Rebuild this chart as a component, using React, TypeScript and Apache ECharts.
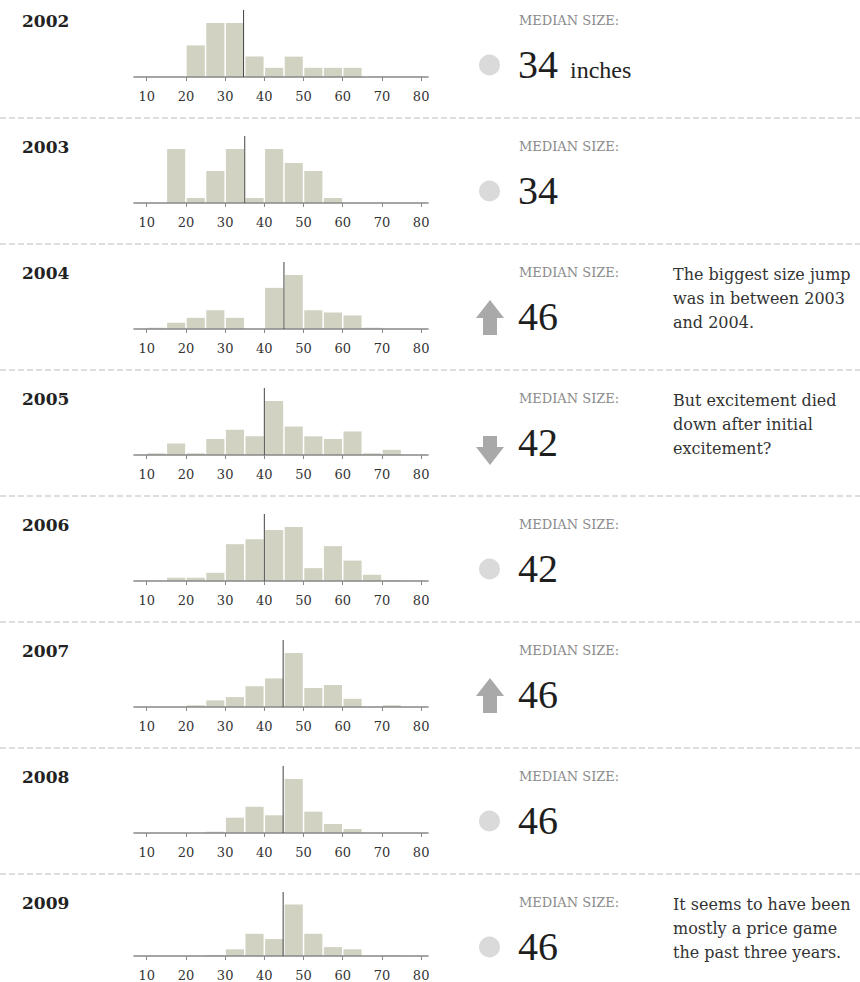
import React, { useEffect, useRef } from "react";
import * as echarts from "echarts";

// ---- data ----
const years = ["2002", "2003", "2004", "2005", "2006", "2007", "2008", "2009"];
const binStarts = [10, 15, 20, 25, 30, 35, 40, 45, 50, 55, 60, 65, 70, 75];
const binWidth = 5;
const tickValues = [10, 20, 30, 40, 50, 60, 70, 80];
const counts2002 = [0, 0, 31, 53, 53, 20, 9, 20, 9, 9, 9, 0, 0, 0];
const counts2003 = [0, 54, 5, 32, 54, 5, 54, 40, 32, 5, 0, 0, 0, 0];
const counts2004 = [1.3, 6.3, 11.3, 19, 11.3, 0, 41.7, 54.7, 19, 16.7, 13.7, 1.3, 0, 0];
const counts2005 = [1.7, 11.7, 1.7, 16.3, 25.7, 19, 55, 29, 19, 16.3, 24, 1.7, 5.3, 0];
const counts2006 = [0, 3.3, 3.3, 8.3, 37.3, 42.3, 51.7, 54.7, 13, 35.3, 20.7, 6.3, 1, 0];
const counts2007 = [0, 0, 1.7, 6.7, 10, 21, 29, 54.7, 19.3, 22.3, 8.3, 0, 1.7, 0];
const counts2008 = [0, 0, 0, 1.3, 15.3, 26.3, 17.7, 54, 21.3, 9, 4, 0, 0, 0];
const counts2009 = [0, 0, 0, 1, 7, 23.3, 17.7, 54, 23.3, 9.3, 7, 0, 0.7, 0];
const histograms = [counts2002, counts2003, counts2004, counts2005, counts2006, counts2007, counts2008, counts2009];
const medianLines = [34.7, 35, 45, 40, 40, 44.8, 44.8, 44.8];
const medianSizes = ["34", "34", "46", "42", "42", "46", "46", "46"];
const trends = ["same", "same", "up", "down", "same", "up", "same", "same"];
const notes = [
  "",
  "",
  "The biggest size jump\nwas in between 2003\nand 2004.",
  "But excitement died\ndown after initial\nexcitement?",
  "",
  "",
  "",
  "It seems to have been\nmostly a price game\nthe past three years.",
];

const ROW = 126;
const SERIF = '"DejaVu Serif", serif';
const TIMES = '"Liberation Serif", serif';

export default function App() {
  const ref = useRef<HTMLDivElement>(null);
  useEffect(() => {
    document.body.style.margin = "0";
    const chart = echarts.init(ref.current!, null, { renderer: "svg" });
    const grid: any[] = [];
    const xAxis: any[] = [];
    const yAxis: any[] = [];
    const series: any[] = [];
    const graphic: any[] = [];

    years.forEach((yr, i) => {
      const top = i * ROW;
      const vals = histograms[i];
      const yMax = Math.max(...vals) * (67 / 54);
      grid.push({ left: 134, top: top + 10, width: 294, height: 67 });
      xAxis.push({
        type: "value",
        gridIndex: i,
        min: 6.75,
        max: 81.75,
        z: 5,
        axisLine: { show: true, lineStyle: { color: "#888", width: 1.5 } },
        axisTick: { show: true, length: 4, customValues: tickValues, lineStyle: { color: "#888", width: 1 } },
        axisLabel: { customValues: tickValues, margin: 13, color: "#333", fontSize: 13, fontFamily: SERIF },
        splitLine: { show: false },
      });
      yAxis.push({ type: "value", gridIndex: i, min: 0, max: yMax, show: false, splitLine: { show: false } });
      series.push({
        type: "custom",
        xAxisIndex: i,
        yAxisIndex: i,
        data: binStarts.map((s, k) => [s, s + binWidth, vals[k]]),
        encode: { x: [0, 1], y: 2 },
        renderItem: (params: any, api: any) => {
          const s = api.value(0);
          const e = api.value(1);
          const v = api.value(2);
          if (!v) return null;
          const p0 = api.coord([s, v]);
          const p1 = api.coord([e, 0]);
          return {
            type: "rect",
            shape: { x: p0[0] + 0.75, y: p0[1], width: p1[0] - p0[0] - 1.5, height: p1[1] - p0[1] },
            style: { fill: "#d1d2c2" },
          };
        },
        z: 2,
      });
      series.push({
        type: "line",
        xAxisIndex: i,
        yAxisIndex: i,
        data: [
          [medianLines[i], 0],
          [medianLines[i], yMax],
        ],
        symbol: "none",
        lineStyle: { color: "#444", width: 1 },
        z: 6,
      });

      graphic.push({
        type: "text",
        x: 22,
        y: top + 21,
        style: { text: yr, font: `bold 17px ${SERIF}`, fill: "#222", verticalAlign: "middle" },
      });
      graphic.push({
        type: "text",
        x: 519,
        y: top + 20,
        style: { text: "MEDIAN SIZE:", font: `13px ${SERIF}`, fill: "#8a8a8a", verticalAlign: "middle" },
      });
      graphic.push({
        type: "text",
        x: 518,
        y: top + 64,
        style: { text: medianSizes[i], font: `40px ${TIMES}`, fill: "#1e1e1e", verticalAlign: "middle" },
      });
      if (i === 0) {
        graphic.push({
          type: "text",
          x: 570,
          y: top + 69.5,
          style: { text: "inches", font: `24px ${TIMES}`, fill: "#222", verticalAlign: "middle" },
        });
      }
      if (trends[i] === "same") {
        graphic.push({ type: "circle", shape: { cx: 489.5, cy: top + 65, r: 10.5 }, style: { fill: "#dadada" } });
      } else if (trends[i] === "up") {
        graphic.push({
          type: "polygon",
          shape: {
            points: [
              [490, top + 48],
              [504, top + 66],
              [497, top + 66],
              [497, top + 83],
              [483, top + 83],
              [483, top + 66],
              [476, top + 66],
            ],
          },
          style: { fill: "#a9a9a9" },
        });
      } else {
        graphic.push({
          type: "polygon",
          shape: {
            points: [
              [483, top + 58],
              [497, top + 58],
              [497, top + 69],
              [504, top + 69],
              [490, top + 87],
              [476, top + 69],
              [483, top + 69],
            ],
          },
          style: { fill: "#a9a9a9" },
        });
      }
      if (notes[i]) {
        graphic.push({
          type: "text",
          x: 673,
          y: top + 10,
          style: { text: notes[i], font: `16px ${SERIF}`, fill: "#333", lineHeight: 24, verticalAlign: "top" },
        });
      }
      if (i < years.length - 1) {
        graphic.push({
          type: "line",
          shape: { x1: 0, y1: top + 118, x2: 860, y2: top + 118 },
          style: { stroke: "#dedede", lineWidth: 2, lineDash: [6, 3] },
        });
      }
    });

    chart.setOption({
      animation: false,
      backgroundColor: "#fff",
      grid,
      xAxis,
      yAxis,
      series,
      graphic,
    });
    return () => chart.dispose();
  }, []);
  return <div ref={ref} style={{ width: 860, height: 982 }} />;
}
